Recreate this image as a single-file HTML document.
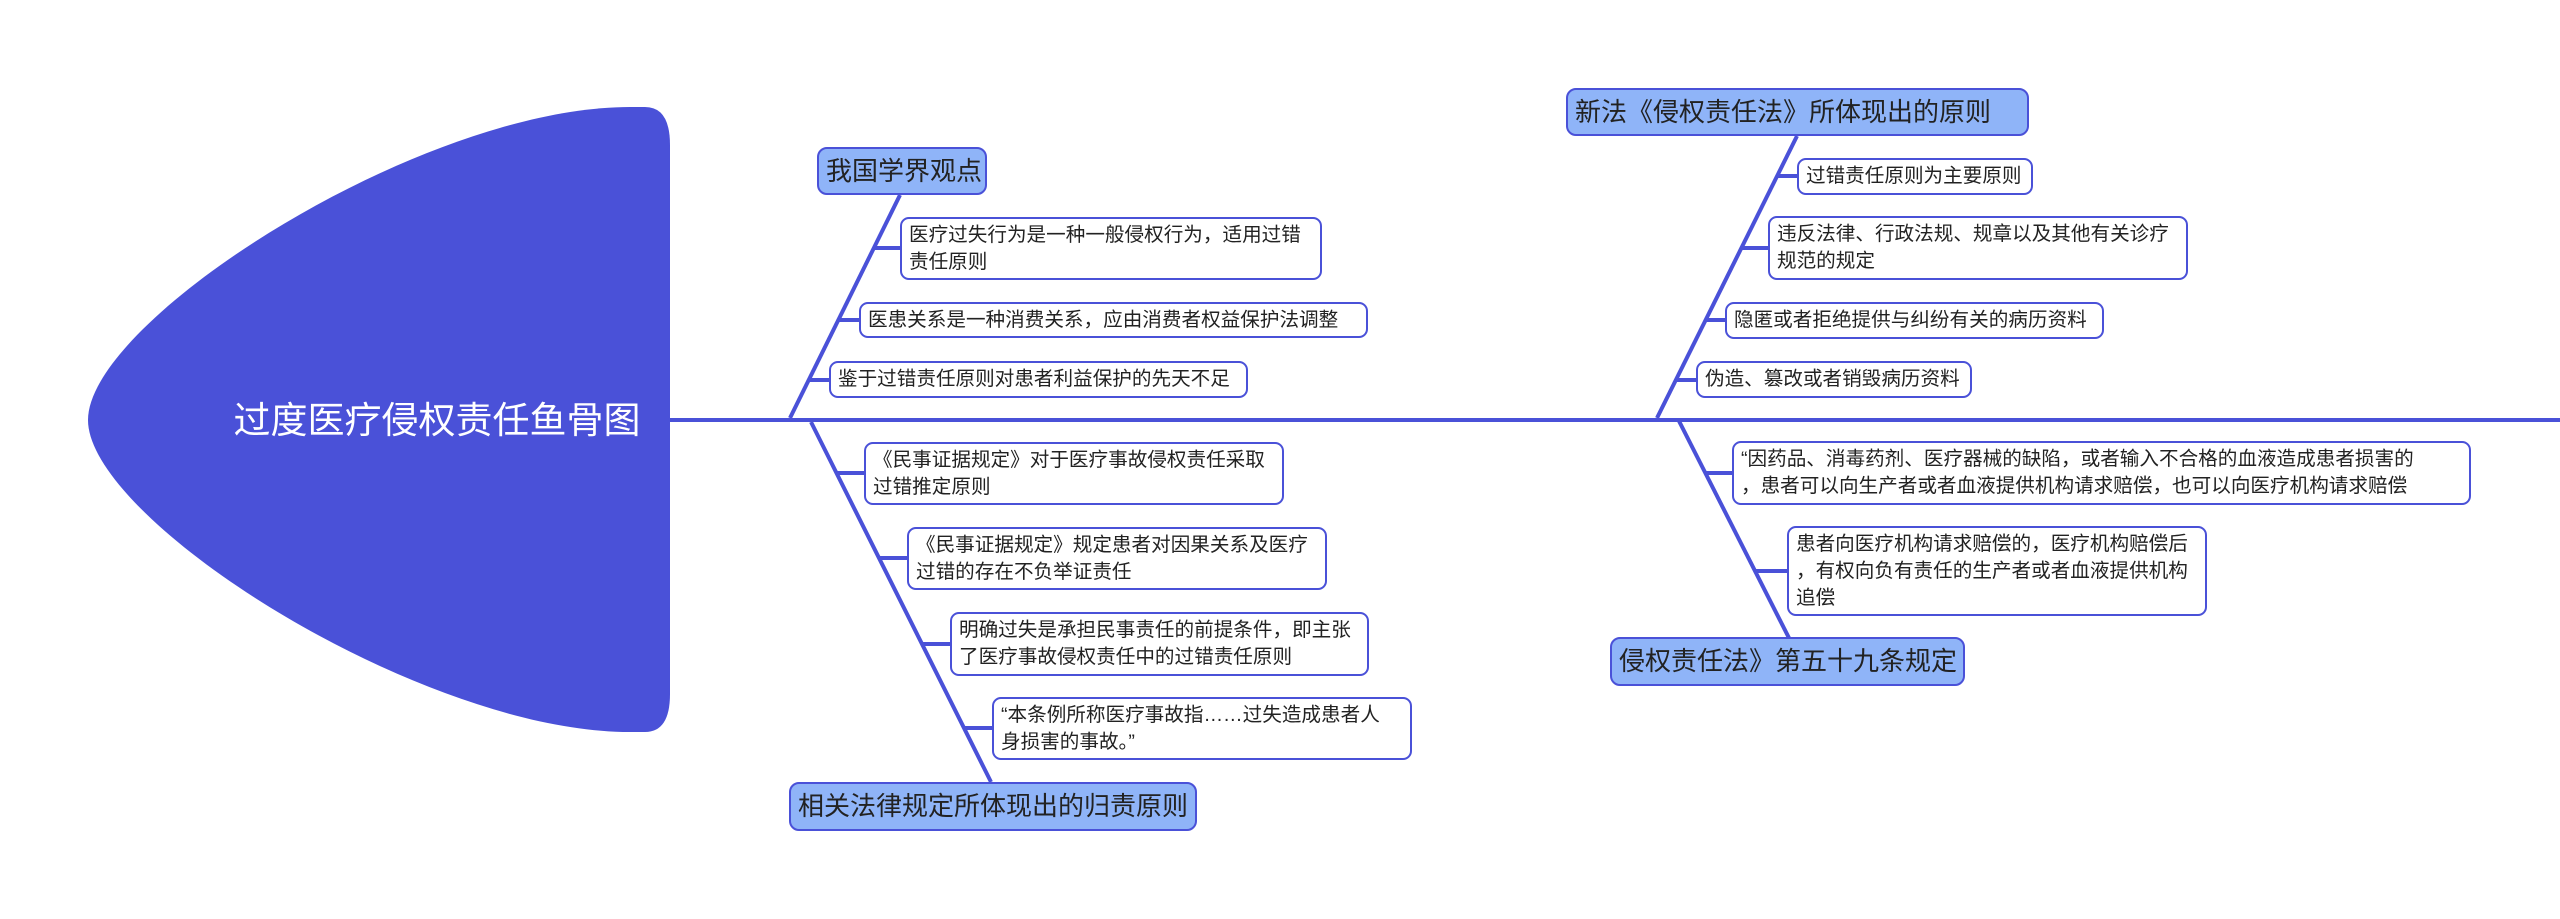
<!DOCTYPE html>
<html><head><meta charset="utf-8"><style>
body{margin:0;width:2560px;height:919px;background:#fff;position:relative;overflow:hidden;font-family:"Liberation Sans","Noto Sans CJK SC",sans-serif}
.b{position:absolute;box-sizing:border-box;border:2px solid #4a51d8;border-radius:9px;background:#fff;color:#222;font-size:19.6px;line-height:27px;padding:0 5px 0 7px;display:flex;align-items:center;white-space:nowrap}
.m{background:#8fb4f8;font-size:26px;color:#222;border-radius:10px}
svg{position:absolute;left:0;top:0}
</style></head><body>
<svg width="2560" height="919">
<path d="M630,107 L645,107 Q670,107 670,145 L670,694 Q670,732 645,732 L630,732 C420,732 88,520 88,420 C88,320 420,107 630,107 Z" fill="#4a51d8"/>
<g stroke="#4a51d8" stroke-width="4" fill="none">
<line x1="670" y1="420" x2="2560" y2="420"/>
<line x1="790" y1="418" x2="900" y2="195"/>
<line x1="811" y1="422" x2="991" y2="782"/>
<line x1="1657" y1="418" x2="1797" y2="136"/>
<line x1="1679" y1="421" x2="1789" y2="638"/>
<line x1="874" y1="248" x2="900" y2="248"/>
<line x1="838" y1="320" x2="859" y2="320"/>
<line x1="809" y1="380" x2="829" y2="380"/>
<line x1="837" y1="473" x2="864" y2="473"/>
<line x1="879" y1="558" x2="907" y2="558"/>
<line x1="922" y1="644" x2="950" y2="644"/>
<line x1="964" y1="728" x2="992" y2="728"/>
<line x1="1778" y1="176" x2="1797" y2="176"/>
<line x1="1742" y1="248" x2="1768" y2="248"/>
<line x1="1706" y1="320" x2="1725" y2="320"/>
<line x1="1676" y1="380" x2="1696" y2="380"/>
<line x1="1705" y1="473" x2="1732" y2="473"/>
<line x1="1755" y1="571" x2="1787" y2="571"/>
</g>
<text x="437" y="433" fill="#fff" font-size="37" text-anchor="middle" font-family="Liberation Sans, Noto Sans CJK SC, sans-serif">过度医疗侵权责任鱼骨图</text>
</svg>
<div class="b m" style="left:817px;top:147px;width:170px;height:48px">我国学界观点</div>
<div class="b" style="left:900px;top:217px;width:422px;height:63px">医疗过失行为是一种一般侵权行为，适用过错<br>责任原则</div>
<div class="b" style="left:859px;top:302px;width:509px;height:36px">医患关系是一种消费关系，应由消费者权益保护法调整</div>
<div class="b" style="left:829px;top:361px;width:419px;height:37px">鉴于过错责任原则对患者利益保护的先天不足</div>
<div class="b" style="left:864px;top:442px;width:420px;height:63px">《民事证据规定》对于医疗事故侵权责任采取<br>过错推定原则</div>
<div class="b" style="left:907px;top:527px;width:420px;height:63px">《民事证据规定》规定患者对因果关系及医疗<br>过错的存在不负举证责任</div>
<div class="b" style="left:950px;top:612px;width:419px;height:64px">明确过失是承担民事责任的前提条件，即主张<br>了医疗事故侵权责任中的过错责任原则</div>
<div class="b" style="left:992px;top:697px;width:420px;height:63px">“本条例所称医疗事故指……过失造成患者人<br>身损害的事故。”</div>
<div class="b m" style="left:789px;top:782px;width:408px;height:49px">相关法律规定所体现出的归责原则</div>
<div class="b m" style="left:1566px;top:88px;width:463px;height:48px">新法《侵权责任法》所体现出的原则</div>
<div class="b" style="left:1797px;top:158px;width:236px;height:37px">过错责任原则为主要原则</div>
<div class="b" style="left:1768px;top:216px;width:420px;height:64px">违反法律、行政法规、规章以及其他有关诊疗<br>规范的规定</div>
<div class="b" style="left:1725px;top:302px;width:379px;height:37px">隐匿或者拒绝提供与纠纷有关的病历资料</div>
<div class="b" style="left:1696px;top:361px;width:276px;height:37px">伪造、篡改或者销毁病历资料</div>
<div class="b" style="left:1732px;top:441px;width:739px;height:64px">“因药品、消毒药剂、医疗器械的缺陷，或者输入不合格的血液造成患者损害的<br>，患者可以向生产者或者血液提供机构请求赔偿，也可以向医疗机构请求赔偿</div>
<div class="b" style="left:1787px;top:526px;width:420px;height:90px">患者向医疗机构请求赔偿的，医疗机构赔偿后<br>，有权向负有责任的生产者或者血液提供机构<br>追偿</div>
<div class="b m" style="left:1610px;top:637px;width:355px;height:49px">侵权责任法》第五十九条规定</div>
</body></html>
